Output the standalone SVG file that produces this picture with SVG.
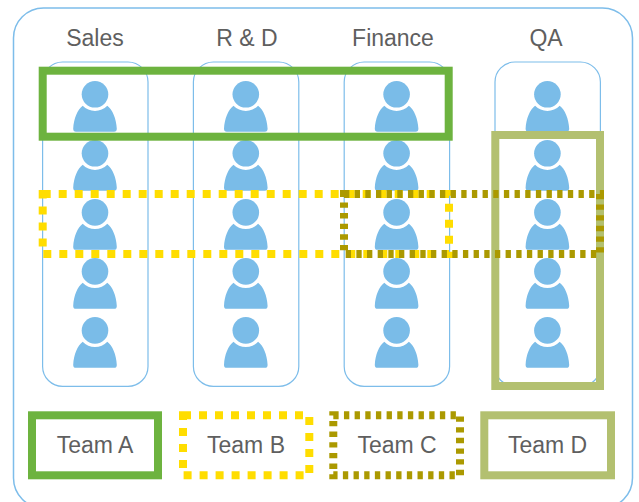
<svg xmlns="http://www.w3.org/2000/svg" width="639" height="502" viewBox="0 0 639 502">
<style>
text{font-family:"Liberation Sans",Arial,sans-serif;font-size:23px;fill:#5f5f5f;text-anchor:middle}
.o{fill:none;stroke:#7dbdea;stroke-width:1.5}
.c{fill:none;stroke:#7dbdea;stroke-width:1.2}
.a{fill:#fff;stroke:#6db33f;stroke-width:8}
.b{fill:#fff;stroke:#ffdd00;stroke-width:8;stroke-dasharray:8 8}
.cc{fill:#fff;stroke:#ab9900;stroke-width:8;stroke-dasharray:5.33 5.33}
.d{fill:#fff;stroke:#b3c070;stroke-width:8}
.n{fill:none}
.p{fill:#7abce8}
</style>
<defs>
<g id="person">
<circle class="p" cx="0" cy="0" r="13.3"/>
<path class="p" d="M-12.3,11.4A17,17 0 0 0 12.3,11.4C17.5,15.5 21.3,24 21.8,34.5Q21.8,37.4 19,37.4L-19,37.4Q-21.8,37.4 -21.8,34.5C-21.3,24 -17.5,15.5 -12.3,11.4Z"/>
</g>
</defs>
<rect id="frame" class="o" x="13.5" y="8" width="619" height="500" rx="30"/>
<g id="col-sales">
<rect class="c" x="42.6" y="62" width="105.4" height="324.4" rx="20"/>
<text x="95" y="46">Sales</text>
<use href="#person" x="95" y="94.3"/><use href="#person" x="95" y="153.3"/><use href="#person" x="95" y="212.4"/><use href="#person" x="95" y="271.4"/><use href="#person" x="95" y="330.4"/>
</g>
<g id="col-rd">
<rect class="c" x="193.4" y="62" width="105.4" height="324.4" rx="20"/>
<text x="247" y="46">R &amp; D</text>
<use href="#person" x="245.8" y="94.3"/><use href="#person" x="245.8" y="153.3"/><use href="#person" x="245.8" y="212.4"/><use href="#person" x="245.8" y="271.4"/><use href="#person" x="245.8" y="330.4"/>
</g>
<g id="col-finance">
<rect class="c" x="344.2" y="62" width="105.4" height="324.4" rx="20"/>
<text x="393" y="46">Finance</text>
<use href="#person" x="396.6" y="94.3"/><use href="#person" x="396.6" y="153.3"/><use href="#person" x="396.6" y="212.4"/><use href="#person" x="396.6" y="271.4"/><use href="#person" x="396.6" y="330.4"/>
</g>
<g id="col-qa">
<rect class="c" x="495" y="62" width="105.4" height="324.4" rx="20"/>
<text x="546" y="46">QA</text>
<use href="#person" x="547.4" y="94.3"/><use href="#person" x="547.4" y="153.3"/><use href="#person" x="547.4" y="212.4"/><use href="#person" x="547.4" y="271.4"/><use href="#person" x="547.4" y="330.4"/>
</g>
<g id="outlines">
<rect class="a n" x="42.7" y="70.7" width="406" height="66"/>
<rect class="d n" x="495.3" y="135" width="104.7" height="251"/>
<rect class="b n" x="42.7" y="194" width="406.3" height="60"/>
<rect class="cc n" x="344" y="194" width="256" height="60"/>
</g>
<g id="team-a"><rect class="a" x="32" y="415.3" width="126" height="60"/><text x="95" y="453">Team A</text></g>
<g id="team-b"><rect class="b" x="183" y="415.3" width="126.3" height="60"/><text x="246" y="453">Team B</text></g>
<g id="team-c"><rect class="cc" x="333.3" y="415.3" width="126.7" height="60"/><text x="397" y="453">Team C</text></g>
<g id="team-d"><rect class="d" x="484.3" y="415.3" width="126.7" height="60"/><text x="547.5" y="453">Team D</text></g>
</svg>
